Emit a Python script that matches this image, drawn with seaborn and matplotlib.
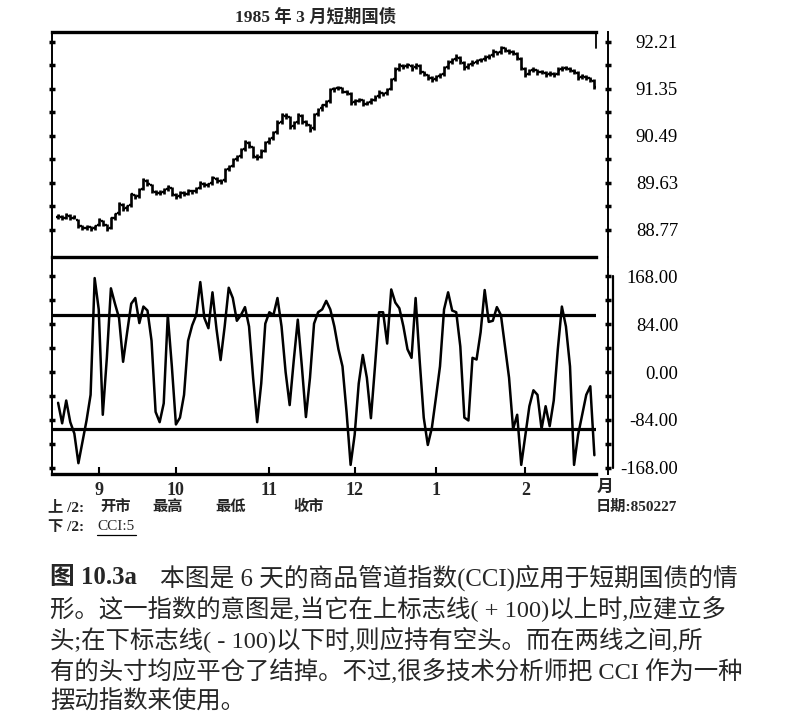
import numpy as np
import pandas as pd
import matplotlib
matplotlib.use("Agg")
import matplotlib.pyplot as plt
import seaborn as sns
from matplotlib.lines import Line2D

# T-bill futures, March 1985 contract, daily bars 1984-08-20 .. 1985-02-27
holidays = ["1984-09-03", "1984-11-22", "1984-12-25", "1985-01-01", "1985-02-18"]

opens = [89.00, 89.01, 88.99, 89.02, 88.99, 88.95, 88.83, 88.80, 88.82, 88.80,
         88.85, 88.93, 88.85, 88.80, 88.98, 89.07, 89.22, 89.16, 89.22, 89.40,
         89.38, 89.52, 89.66, 89.58, 89.46, 89.44, 89.46, 89.51, 89.53, 89.40,
         89.38, 89.44, 89.43, 89.47, 89.48, 89.54, 89.61, 89.59, 89.62, 89.70,
         89.66, 89.68, 89.88, 89.94, 90.06, 90.12, 90.25, 90.36, 90.28, 90.11,
         90.11, 90.22, 90.38, 90.44, 90.56, 90.75, 90.86, 90.83, 90.66, 90.74,
         90.85, 90.74, 90.68, 90.63, 90.89, 90.99, 91.06, 91.12, 91.34, 91.36,
         91.36, 91.29, 91.26, 91.10, 91.13, 91.14, 91.08, 91.10, 91.15, 91.21,
         91.27, 91.27, 91.35, 91.53, 91.72, 91.77, 91.76, 91.77, 91.74, 91.77,
         91.65, 91.60, 91.54, 91.53, 91.58, 91.62, 91.75, 91.84, 91.90, 91.92,
         91.83, 91.74, 91.80, 91.84, 91.87, 91.89, 91.93, 91.96, 92.02, 92.02,
         92.09, 92.05, 92.03, 91.99, 91.90, 91.71, 91.63, 91.69, 91.69, 91.65,
         91.64, 91.62, 91.62, 91.63, 91.71, 91.73, 91.72, 91.68, 91.64, 91.56,
         91.57, 91.54, 91.50]
highs = [89.06, 89.04, 89.07, 89.05, 89.04, 88.97, 88.86, 88.85, 88.84, 88.86,
         88.99, 88.95, 88.88, 89.00, 89.08, 89.28, 89.25, 89.23, 89.45, 89.43,
         89.53, 89.72, 89.69, 89.61, 89.50, 89.49, 89.53, 89.58, 89.56, 89.44,
         89.48, 89.47, 89.51, 89.50, 89.55, 89.66, 89.64, 89.63, 89.75, 89.73,
         89.70, 89.90, 89.95, 90.08, 90.14, 90.27, 90.42, 90.39, 90.31, 90.15,
         90.24, 90.40, 90.46, 90.58, 90.77, 90.91, 90.90, 90.86, 90.76, 90.91,
         90.88, 90.77, 90.71, 90.90, 91.00, 91.08, 91.14, 91.37, 91.39, 91.41,
         91.39, 91.32, 91.29, 91.16, 91.19, 91.17, 91.13, 91.18, 91.23, 91.32,
         91.30, 91.37, 91.55, 91.74, 91.83, 91.80, 91.82, 91.80, 91.83, 91.80,
         91.68, 91.63, 91.58, 91.61, 91.64, 91.77, 91.87, 91.92, 91.98, 91.95,
         91.86, 91.82, 91.87, 91.90, 91.92, 91.96, 91.98, 92.07, 92.05, 92.14,
         92.12, 92.08, 92.06, 92.02, 91.93, 91.74, 91.72, 91.74, 91.72, 91.70,
         91.67, 91.67, 91.65, 91.74, 91.76, 91.77, 91.75, 91.71, 91.67, 91.62,
         91.60, 91.57, 91.53]
lows = [88.96, 88.95, 88.97, 88.95, 88.96, 88.80, 88.76, 88.77, 88.75, 88.77,
        88.83, 88.84, 88.74, 88.78, 88.95, 89.04, 89.12, 89.12, 89.19, 89.33,
        89.35, 89.49, 89.57, 89.44, 89.41, 89.41, 89.43, 89.48, 89.39, 89.33,
        89.35, 89.39, 89.40, 89.43, 89.45, 89.51, 89.55, 89.56, 89.59, 89.63,
        89.61, 89.65, 89.84, 89.91, 90.02, 90.09, 90.22, 90.27, 90.09, 90.04,
        90.08, 90.19, 90.34, 90.41, 90.53, 90.71, 90.80, 90.61, 90.62, 90.70,
        90.71, 90.66, 90.56, 90.60, 90.85, 90.95, 91.02, 91.09, 91.30, 91.32,
        91.27, 91.24, 91.05, 91.06, 91.10, 91.04, 91.05, 91.07, 91.12, 91.18,
        91.21, 91.24, 91.32, 91.50, 91.68, 91.71, 91.73, 91.68, 91.71, 91.62,
        91.58, 91.51, 91.48, 91.50, 91.55, 91.59, 91.71, 91.81, 91.86, 91.81,
        91.69, 91.71, 91.77, 91.81, 91.84, 91.86, 91.89, 91.93, 91.96, 91.99,
        92.02, 91.99, 91.97, 91.88, 91.69, 91.57, 91.60, 91.66, 91.61, 91.62,
        91.57, 91.59, 91.57, 91.60, 91.68, 91.69, 91.66, 91.62, 91.51, 91.53,
        91.51, 91.48, 91.35]
closes = [89.02, 88.98, 89.03, 88.99, 89.00, 88.84, 88.80, 88.82, 88.79, 88.83,
          88.95, 88.86, 88.78, 88.98, 89.05, 89.24, 89.15, 89.20, 89.42, 89.36,
          89.50, 89.68, 89.60, 89.47, 89.44, 89.45, 89.50, 89.55, 89.42, 89.37,
          89.45, 89.42, 89.48, 89.47, 89.52, 89.63, 89.58, 89.60, 89.72, 89.66,
          89.65, 89.87, 89.92, 90.05, 90.10, 90.23, 90.38, 90.30, 90.12, 90.09,
          90.20, 90.36, 90.42, 90.54, 90.73, 90.87, 90.85, 90.65, 90.72, 90.87,
          90.75, 90.70, 90.60, 90.87, 90.97, 91.05, 91.10, 91.33, 91.35, 91.37,
          91.30, 91.28, 91.09, 91.12, 91.15, 91.08, 91.09, 91.14, 91.19, 91.28,
          91.25, 91.33, 91.51, 91.70, 91.79, 91.75, 91.78, 91.72, 91.79, 91.66,
          91.62, 91.55, 91.52, 91.57, 91.60, 91.73, 91.83, 91.88, 91.94, 91.85,
          91.73, 91.78, 91.83, 91.86, 91.88, 91.92, 91.94, 92.03, 92.00, 92.10,
          92.06, 92.03, 92.01, 91.92, 91.73, 91.61, 91.68, 91.70, 91.65, 91.66,
          91.61, 91.63, 91.61, 91.70, 91.72, 91.73, 91.70, 91.66, 91.55, 91.58,
          91.55, 91.52, 91.39]

cci = [-54, -90, -50, -88, -108, -160, -123, -85, -40, 165,
       110, -75, 25, 147, 120, 95, 18, 70, 120, 130,
       86, 115, 108, 55, -70, -88, -55, 100, 10, -92,
       -80, -40, 55, 82, 100, 158, 95, 77, 140, 75,
       21, 80, 148, 130, 90, 100, 114, 80, -10, -88,
       -20, 85, 105, 100, 130, 80, 0, -58, 20, 92,
       10, -79, -10, 85, 105, 110, 125, 110, 80, 40,
       10, -70, -163, -110, -20, 30, -10, -81, 10, 105,
       105, 50, 145, 122, 112, 80, 40, 25, 130, 20,
       -80, -128, -98, -45, 10, 110, 140, 108, 105, 45,
       -80, -85, 25, 22, 70, 144, 88, 90, 114, 100,
       45, -10, -100, -75, -163, -111, -60, -32, -40, -100,
       -60, -95, -50, 40, 115, 80, 10, -163, -110, -75,
       -40, -25, -146]

price_ticks = [88.77, 89.63, 90.49, 91.35, 92.21]
price_minor = [89.20, 90.06, 90.92, 91.78]
cci_ticks = [-168, -84, 0, 84, 168]
cci_minor = [-126, -42, 42, 126]
cci_bands = [100, -100]

dates = pd.bdate_range("1984-08-20", "1985-02-27", freq="C", holidays=holidays)
n = min(len(dates), len(closes))
dates = dates[:n]
df = pd.DataFrame({"day": np.arange(n), "open": opens[:n], "high": highs[:n],
                   "low": lows[:n], "close": closes[:n], "cci": cci[:n]})
first = np.r_[False, dates.month[1:] != dates.month[:-1]]
month_pos = df["day"][first].tolist()
month_lab = [str(m) for m in dates.month[first]]

sns.set_theme(style="white")
plt.rcParams["font.family"] = ["Liberation Serif", "Noto Sans CJK SC"]

W, H = 797, 717
fig = plt.figure(figsize=(W / 100, H / 100), dpi=100)


def fx(x):
    return x / W


def fy(y):
    return 1 - y / H


ax1 = fig.add_axes([fx(52), fy(257), 544 / W, 225 / H])
ax2 = fig.add_axes([fx(52), fy(474), 544 / W, 217 / H])

# price bars (open / high / low / close)
ax1.vlines(df["day"], df["low"], df["high"], color="black", lw=1.9)
ax1.hlines(df["open"], df["day"] - 0.5, df["day"], color="black", lw=1.7)
ax1.hlines(df["close"], df["day"], df["day"] + 0.5, color="black", lw=1.7)
ax1.set_ylim(88.27, 92.39)

# CCI
sns.lineplot(data=df, x="day", y="cci", ax=ax2, color="black", lw=1.8)
for b in cci_bands:
    ax2.axhline(b, color="black", lw=2.3)
ax2.set_ylim(-179, 202)

for ax in (ax1, ax2):
    ax.set_xlim(-1.5, n - 0.6)
    ax.set_xlabel("")
    ax.set_ylabel("")
    ax.grid(False)
    ax.set_facecolor("none")
    ax.spines["left"].set_linewidth(1.4)
    ax.spines["right"].set_position(("outward", 8.6))
    ax.spines["right"].set_linewidth(1.4)
    for s in ("left", "right", "top", "bottom"):
        ax.spines[s].set_color("black")
    ax.tick_params(axis="y", which="both", left=True, right=True,
                   labelleft=False, labelright=True, direction="inout",
                   length=5, width=2.5, color="black", pad=48,
                   labelsize=13.5, labelcolor="black")

ax1.spines["top"].set_linewidth(2.4)
ax1.spines["bottom"].set_linewidth(2.4)
ax2.spines["top"].set_visible(False)
ax2.spines["bottom"].set_linewidth(2.4)

ax1.set_yticks(price_ticks)
ax1.set_yticks(price_minor, minor=True)
ax1.set_yticklabels([f"{v:.2f}" for v in price_ticks])
ax1.set_xticks([])

ax2.set_yticks(cci_ticks)
ax2.set_yticks(cci_minor, minor=True)
ax2.set_yticklabels([f"{v:.2f}" for v in cci_ticks])
ax2.set_xticks(month_pos)
ax2.set_xticklabels(month_lab, fontweight="bold", fontsize=13)
ax2.tick_params(axis="x", direction="in", length=5, width=1.5, pad=6,
                bottom=True, color="black")

for ax in (ax1, ax2):
    for lab in ax.get_yticklabels():
        lab.set_horizontalalignment("right")

# small marks at the right edge
ax1.plot([1, 1], [1, 0.93], transform=ax1.transAxes, color="black",
         lw=1.3, clip_on=False)
ax2.plot([1.031, 1.031], [168, -168], transform=ax2.get_yaxis_transform(),
         color="black", lw=1.6, clip_on=False)

# texts
fig.text(fx(316), fy(17), "1985 年 3 月短期国债", ha="center", va="center",
         fontsize=12.5, fontweight="bold")
fig.text(fx(605), fy(488), "月", ha="center", va="center", fontsize=12,
         fontweight="bold")
legend_top = [("上 /2:", 48), ("开市", 100), ("最高", 152), ("最低", 215),
              ("收市", 293)]
for word, xp in legend_top:
    fig.text(fx(xp), fy(507), word, ha="left", va="center", fontsize=11,
             fontweight="bold")
fig.text(fx(677), fy(507), "日期:850227", ha="right", va="center",
         fontsize=11, fontweight="bold")
fig.text(fx(48), fy(527), "下 /2:", ha="left", va="center", fontsize=11,
         fontweight="bold")
fig.text(fx(97), fy(527), "CCI:5", ha="left", va="center", fontsize=11)
fig.add_artist(Line2D([fx(97), fx(136)], [fy(535), fy(535)], color="black",
                      lw=0.9))

caption = [
    "本图是 6 天的商品管道指数(CCI)应用于短期国债的情",
    "形。这一指数的意图是,当它在上标志线( + 100)以上时,应建立多",
    "头;在下标志线( - 100)以下时,则应持有空头。而在两线之间,所",
    "有的头寸均应平仓了结掉。不过,很多技术分析师把 CCI 作为一种",
    "摆动指数来使用。",
]
fig.text(fx(50), fy(578), "图 10.3a", ha="left", va="center", fontsize=17.8,
         fontweight="bold")
fig.text(fx(160), fy(578), caption[0], ha="left", va="center", fontsize=17.8)
for k, line in enumerate(caption[1:]):
    fig.text(fx(50), fy(609 + 31 * k), line, ha="left", va="center",
             fontsize=17.6)

fig.savefig("out.png", dpi=100)
